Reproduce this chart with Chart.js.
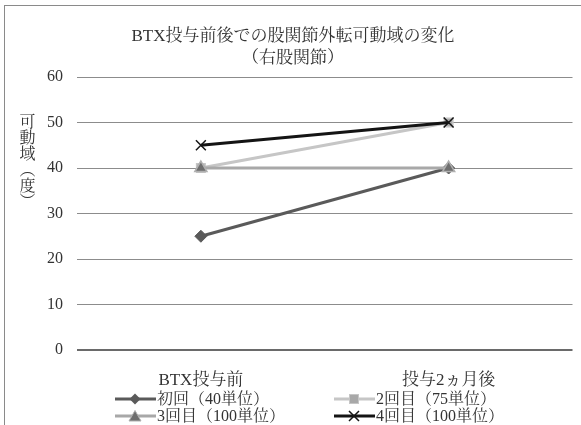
<!DOCTYPE html>
<html>
<head>
<meta charset="utf-8">
<script src="https://cdn.jsdelivr.net/npm/chart.js@4/dist/chart.umd.min.js"></script>
<style>
  html, body { margin: 0; padding: 0; background: #fff; }
  #wrap { position: relative; width: 581px; height: 425px; overflow: hidden; background: #fff;
          font-family: "Liberation Serif", "Noto Serif CJK JP", "Noto Sans CJK JP", serif; color: #333; }
  #frame { position: absolute; left: 4px; top: 5px; width: 600px; height: 440px;
           border-left: 1px solid #8a8a8a; border-top: 1px solid #8a8a8a; }
  #myChart { position: absolute; left: 0; top: 0; }
  .title { position: absolute; left: 0; width: 586px; text-align: center; font-size: 17px; line-height: 20px; }
  #ytitle { position: absolute; left: 17px; top: 113px; writing-mode: vertical-rl; text-orientation: upright;
            font-size: 16px; line-height: 18px; }
  .lg { position: absolute; font-size: 16px; line-height: 17px; white-space: nowrap; }
  .lg svg { vertical-align: middle; margin-right: 1px; position: relative; top: -1px; }
</style>
</head>
<body>
<div id="wrap">
  <div id="frame"></div>
  <canvas id="myChart" width="581" height="425"></canvas>
  <div class="title" style="top:26px;">BTX投与前後での股関節外転可動域の変化</div>
  <div class="title" style="top:48px;">（右股関節）</div>
  <div id="ytitle">可動域（度）</div>
  <div id="legend"></div>
</div>
<script>
/*グラフのデータ*/
var categories = ['BTX投与前', '投与2ヵ月後'];
var seriesNames = ['初回（40単位）', '2回目（75単位）', '3回目（100単位）', '4回目（100単位）'];
var series1 = [25, 40];
var series2 = [40, 50];
var series3 = [40, 40];
var series4 = [45, 50];
var yTicks = [0, 10, 20, 30, 40, 50, 60];

var FONT = '"Liberation Serif", "Noto Serif CJK JP", "Noto Sans CJK JP", serif';

var styles = [
    {line: '#5a5a5a', point: 'rectRot', fill: '#5a5a5a', border: '#5a5a5a', radius: 6, bw: 1},
    {line: '#c6c6c6', point: 'rect', fill: '#a8a8a8', border: '#c6c6c6', radius: 6, bw: 1.5},
    {line: '#a8a8a8', point: 'triangle', fill: '#6e6e6e', border: '#b0b0b0', radius: 7, bw: 1.5},
    {line: '#141414', point: 'crossRot', fill: '#141414', border: '#141414', radius: 7, bw: 1.5}
];
var values = [series1, series2, series3, series4];

var datasets = values.map(function(v, i) {
    var s = styles[i];
    return {
        label: seriesNames[i],
        data: v,
        borderColor: s.line,
        borderWidth: 3,
        pointStyle: s.point,
        pointRadius: s.radius,
        pointBackgroundColor: s.fill,
        pointBorderColor: s.border,
        pointBorderWidth: s.bw,
        order: 3 - i   // 後の系列を上に描く
    };
});

var ctx = document.getElementById('myChart').getContext('2d');
var myChart = new Chart(ctx, {
    type: 'line',
    data: { labels: categories, datasets: datasets },
    options: {
        responsive: false,
        animation: false,
        layout: { padding: { top: 77, right: 0, bottom: 0, left: 0 } },
        plugins: { legend: { display: false }, title: { display: false }, tooltip: { enabled: false } },
        scales: {
            x: {
                offset: true,
                grid: { display: false, drawTicks: false },
                border: { display: false },
                ticks: { color: '#333', padding: 20, font: { family: FONT, size: 17 } },
                afterFit: function(scale) { scale.height = 75; }
            },
            y: {
                min: 0, max: 60,
                afterBuildTicks: function(scale) { scale.ticks = yTicks.map(function(t) { return {value: t}; }); },
                grid: {
                    drawTicks: false,
                    color: function(c) { return c.tick && c.tick.value === 0 ? '#6a6a6a' : '#8c8c8c'; },
                    lineWidth: function(c) { return c.tick && c.tick.value === 0 ? 2 : 1; }
                },
                border: { display: false },
                ticks: { color: '#333', padding: 14, font: { family: FONT, size: 16 } },
                afterFit: function(scale) { scale.width = 77; }
            }
        }
    }
});

/*凡例（線＋マーカー）*/
function icon(s) {
    var m = '';
    if (s.point === 'rectRot') m = '<polygon points="20,0.5 25.5,6 20,11.5 14.5,6" fill="' + s.fill + '"/>';
    if (s.point === 'rect') m = '<rect x="15.5" y="1.5" width="9" height="9" fill="' + s.fill + '" stroke="' + s.border + '"/>';
    if (s.point === 'triangle') m = '<polygon points="20,0.5 26,11 14,11" fill="' + s.fill + '" stroke="' + s.border + '"/>';
    if (s.point === 'crossRot') m = '<path d="M15,1 L25,11 M25,1 L15,11" stroke="' + s.fill + '" stroke-width="1.5"/>';
    return '<svg width="41" height="12"><line x1="0" y1="6" x2="41" y2="6" stroke="' + s.line + '" stroke-width="3"/>' + m + '</svg>';
}
var pos = [[115, 390], [334, 390], [115, 407], [334, 407]];
var html = '';
seriesNames.forEach(function(n, i) {
    html += '<div class="lg" style="left:' + pos[i][0] + 'px;top:' + pos[i][1] + 'px;">' + icon(styles[i]) + n + '</div>';
});
document.getElementById('legend').innerHTML = html;
</script>
</body>
</html>
